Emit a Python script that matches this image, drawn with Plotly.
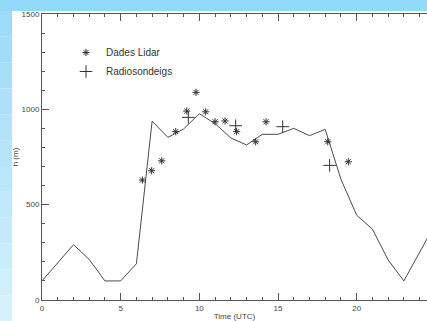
import plotly.graph_objects as go

# Boundary-layer height curve (hourly)
hours = list(range(0, 26))
h_line = [100, 195, 290, 213, 100, 100, 190, 938, 853, 897, 977, 925, 850, 813,
          869, 869, 900, 862, 895, 633, 445, 372, 210, 100, 253, 400]

# Lidar data (asterisks)
lidar_t = [6.38, 6.97, 7.61, 8.5, 9.2, 9.79, 10.4, 11.0, 11.63, 12.37, 13.58, 14.24, 18.16, 19.47]
lidar_h = [629, 678, 730, 883, 991, 1089, 987, 935, 939, 883, 830, 935, 830, 725]

# Radiosonde data (plus)
radio_t = [9.3, 12.31, 15.3, 18.28]
radio_h = [958, 914, 909, 706]

W, H = 427, 321
L, R, T, B = 42, 0, 14, 21
pw, ph = W - L - R, H - T - B


def px(x):
    return (x - L) / pw


def py(y):
    return (H - B - y) / ph


fig = go.Figure()
fig.add_trace(go.Scatter(x=hours, y=h_line, mode="lines",
                         line=dict(color="#4a4a4a", width=1), showlegend=False))
fig.add_trace(go.Scatter(x=lidar_t, y=lidar_h, mode="markers", name="Dades Lidar",
                         marker=dict(symbol="asterisk-open", size=6, color="#333",
                                     line=dict(width=1, color="#333"))))
fig.add_trace(go.Scatter(x=radio_t, y=radio_h, mode="markers", name="Radiosondeigs",
                         marker=dict(symbol="cross-thin-open", size=9, color="#333",
                                     line=dict(width=1, color="#333"))))

shapes = [dict(type="rect", xref="paper", yref="paper", x0=px(0), x1=px(W),
               y0=py(11), y1=py(0), fillcolor="#92d8f9", line_width=0, layer="below")]
n = 12
top_c = (157, 220, 248)
bot_c = (212, 241, 252)
for i in range(n):
    f = i / (n - 1)
    c = tuple(int(top_c[k] + (bot_c[k] - top_c[k]) * f) for k in range(3))
    y0p = 11 + (H - 11) * i / n
    y1p = 11 + (H - 11) * (i + 1) / n
    shapes.append(dict(type="rect", xref="paper", yref="paper", x0=px(0), x1=px(12),
                       y0=py(y1p), y1=py(y0p), fillcolor="rgb(%d,%d,%d)" % c,
                       line_width=0, layer="below"))

axis_font = dict(family="Liberation Sans", size=8, color="#444")
fig.update_layout(
    width=W, height=H,
    margin=dict(l=L, r=R, t=T, b=B),
    paper_bgcolor="white", plot_bgcolor="white",
    shapes=shapes,
    showlegend=True,
    legend=dict(x=px(66), y=py(38), xanchor="left", yanchor="top",
                bgcolor="rgba(0,0,0,0)", font=dict(family="Liberation Sans", size=10, color="#333"),
                itemwidth=30, tracegroupgap=0),
    xaxis=dict(range=[0, 24.47], tickvals=[0, 5, 10, 15, 20], ticks="inside", ticklen=7,
               tickcolor="#555", showline=True, linecolor="#555", linewidth=1,
               mirror="ticks", showgrid=False, zeroline=False, tickfont=axis_font,
               minor=dict(dtick=1, ticks="inside", ticklen=3, tickcolor="#555", showgrid=False),
               title=dict(text="Time (UTC)", font=axis_font, standoff=3)),
    yaxis=dict(range=[0, 1500], tickvals=[0, 500, 1000, 1500], ticks="inside", ticklen=7,
               tickcolor="#555", showline=True, linecolor="#555", linewidth=1,
               showgrid=False, zeroline=False, tickfont=axis_font,
               minor=dict(dtick=100, ticks="inside", ticklen=3, tickcolor="#555", showgrid=False),
               title=dict(text="h (m)", font=axis_font, standoff=1)),
)
fig.write_html("out.html")
